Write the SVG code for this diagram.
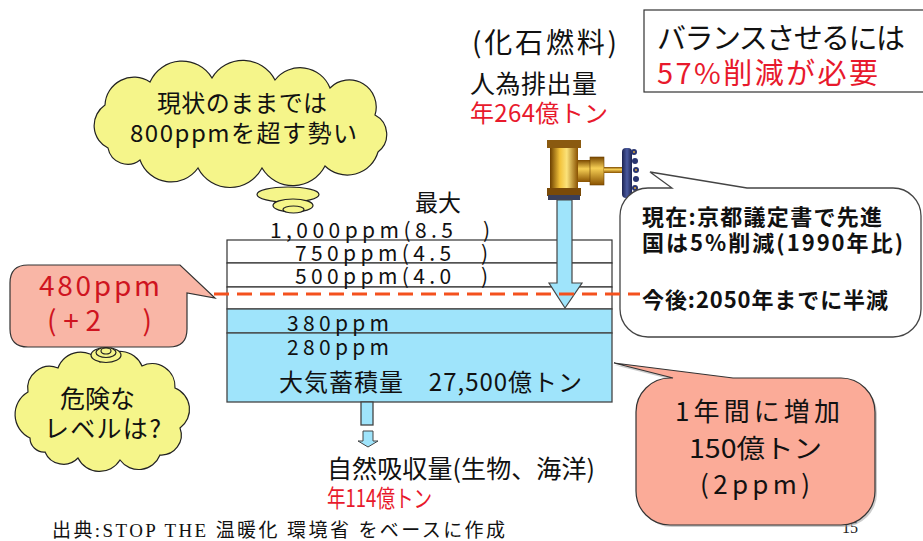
<svg xmlns="http://www.w3.org/2000/svg" width="923" height="541" viewBox="0 0 923 541">
  <defs>
    <linearGradient id="brass" x1="0" y1="0" x2="1" y2="0">
      <stop offset="0" stop-color="#6b3f00"/>
      <stop offset="0.35" stop-color="#f2c23a"/>
      <stop offset="0.6" stop-color="#fbe27a"/>
      <stop offset="1" stop-color="#8a5200"/>
    </linearGradient>
    <linearGradient id="brassV" x1="0" y1="0" x2="0" y2="1">
      <stop offset="0" stop-color="#7a4800"/>
      <stop offset="0.4" stop-color="#f6cf55"/>
      <stop offset="1" stop-color="#8a5200"/>
    </linearGradient>
    <linearGradient id="wheel" x1="0" y1="0" x2="1" y2="0">
      <stop offset="0" stop-color="#1c2350"/>
      <stop offset="0.5" stop-color="#4a5aa0"/>
      <stop offset="1" stop-color="#1c2350"/>
    </linearGradient>
  </defs>
  <style>
    .jp { font-family: "Noto Sans CJK JP", "Noto Sans", sans-serif; }
    .blk { fill: #111; }
    .red { fill: #e8192c; }
    .dred { fill: #cf1420; }
    .bold { font-weight: bold; }
    .cloud { fill: #f5f58a; stroke: #222; stroke-width: 1.2; }
    .salmon { fill: #fbab98; stroke: #333; stroke-width: 1.2; }
    .pink { fill: #f9b6a6; stroke: #333; stroke-width: 1.2; }
    .blue { fill: #9fe4fb; stroke: #444; stroke-width: 1.3; }
    .row { fill: #fff; stroke: #333; stroke-width: 1.2; }
  </style>

  <rect width="923" height="541" fill="#fff"/>

  <!-- page number, partly under the lower callout -->
  <text x="842" y="533" font-family="Liberation Serif, serif" font-size="16" fill="#222">15</text>

  <!-- thought cloud: current trend -->
  <g id="cloud-trend">
    <path class="cloud" d="M108,148 A25,25 0 0 1 105,105 A29,29 0 0 1 150,82 A35,35 0 0 1 212,78 A36,36 0 0 1 275,80 A32,32 0 0 1 330,88 A27,27 0 0 1 375,115 A22,22 0 0 1 378,152 A32,32 0 0 1 325,166 A36,36 0 0 1 262,168 A36,36 0 0 1 198,168 A33,33 0 0 1 140,160 A20,20 0 0 1 108,148 Z"/>
    <ellipse class="cloud" cx="288" cy="194.5" rx="31" ry="7.5"/>
    <ellipse class="cloud" cx="293" cy="205.5" rx="20" ry="6.5"/>
    <ellipse class="cloud" cx="293.5" cy="209.5" rx="10.5" ry="3.5"/>
    <text class="jp blk" x="157" y="112" font-size="24" textLength="170" lengthAdjust="spacing">現状のままでは</text>
    <text class="jp blk" x="130" y="142" font-size="24" textLength="227" lengthAdjust="spacing">800ppmを超す勢い</text>
  </g>

  <!-- atmosphere stack -->
  <g id="stack">
    <rect class="row" x="227" y="240" width="385" height="23"/>
    <rect class="row" x="227" y="263" width="385" height="24"/>
    <rect class="row" x="227" y="287" width="385" height="22"/>
    <rect class="blue" x="227" y="309" width="385" height="24"/>
    <rect class="blue" x="227" y="333" width="385" height="69"/>
    <text class="jp blk" x="415" y="211" font-size="23">最大</text>
    <text class="jp blk" x="270" y="238" font-size="21" textLength="220" lengthAdjust="spacing">1,000ppm(8.5　)</text>
    <text class="jp blk" x="295" y="261" font-size="21" textLength="193" lengthAdjust="spacing">750ppm(4.5　)</text>
    <text class="jp blk" x="295" y="284" font-size="21" textLength="193" lengthAdjust="spacing">500ppm(4.0　)</text>
    <text class="jp blk" x="287" y="331" font-size="21" textLength="102" lengthAdjust="spacing">380ppm</text>
    <text class="jp blk" x="287" y="355" font-size="21" textLength="102" lengthAdjust="spacing">280ppm</text>
    <text class="jp blk" x="279" y="391" font-size="24" textLength="303" lengthAdjust="spacing">大気蓄積量　27,500億トン</text>
  </g>

  <!-- fossil fuel emission source -->
  <g id="emission">
    <text class="jp blk" x="472" y="53" font-size="28" textLength="145" lengthAdjust="spacing">(化石燃料)</text>
    <text class="jp blk" x="470" y="93" font-size="25" textLength="127" lengthAdjust="spacing">人為排出量</text>
    <text class="jp red" x="470" y="122" font-size="24" textLength="138" lengthAdjust="spacing">年264億トン</text>
    <!-- valve -->
    <rect x="550" y="143" width="28" height="50" fill="url(#brass)"/>
    <rect x="547" y="140" width="34" height="8" fill="#8a5a10"/>
    <rect x="547" y="188" width="34" height="8" fill="#7a4a08"/>
    <rect x="548" y="195" width="32" height="5" fill="#3a3f5a"/>
    <rect x="578" y="160" width="14" height="22" fill="url(#brassV)"/>
    <rect x="590" y="157" width="14" height="28" fill="url(#brassV)" stroke="#6b4000" stroke-width="0.6"/>
    <rect x="604" y="167" width="18" height="6" fill="url(#brassV)"/>
    <rect x="622" y="148" width="10" height="50" rx="4" fill="url(#wheel)"/>
    <g fill="#2a3570">
      <circle cx="634" cy="152" r="3"/>
      <circle cx="635" cy="161" r="3"/>
      <circle cx="636" cy="170" r="3"/>
      <circle cx="636" cy="179" r="3"/>
      <circle cx="635" cy="188" r="3"/>
      <circle cx="634" cy="196" r="3"/>
    </g>
    <g fill="#d9a53a">
      <circle cx="634" cy="152" r="1"/>
      <circle cx="636" cy="170" r="1"/>
      <circle cx="635" cy="188" r="1"/>
    </g>
  </g>

  <!-- target box -->
  <g id="target">
    <rect x="644" y="10" width="290" height="82" fill="#fff" stroke="#333" stroke-width="1.2"/>
    <text class="jp blk" x="657" y="49" font-size="29" textLength="248" lengthAdjust="spacing">バランスさせるには</text>
    <text class="jp red" x="657" y="84" font-size="29" textLength="221" lengthAdjust="spacing">57%削減が必要</text>
  </g>

  <!-- policy speech bubble -->
  <g id="policy">
    <path d="M648,188 L672,188 L650,172 L747,188 L893,188 A28,28 0 0 1 921,216 L921,309 A28,28 0 0 1 893,337 L648,337 A28,28 0 0 1 620,309 L620,216 A28,28 0 0 1 648,188 Z" fill="#fff" stroke="#444" stroke-width="1.3"/>
    <text class="jp blk bold" x="642" y="225" font-size="22" textLength="240" lengthAdjust="spacing">現在:京都議定書で先進</text>
    <text class="jp blk bold" x="642" y="251" font-size="22" textLength="261" lengthAdjust="spacing">国は5%削減(1990年比)</text>
    <text class="jp blk bold" x="642" y="308" font-size="22" textLength="246" lengthAdjust="spacing">今後:2050年までに半減</text>
  </g>

  <!-- 480ppm callout -->
  <g id="threshold">
    <path class="pink" d="M28,265 L180,265 L215,298 L187,293 L187,329 Q187,347 169,347 L28,347 Q10,347 10,329 L10,283 Q10,265 28,265 Z"/>
    <text class="jp dred" x="39" y="296" font-size="28" textLength="121" lengthAdjust="spacing">480ppm</text>
    <text class="jp dred" x="47" y="331" font-size="28" textLength="105" lengthAdjust="spacing">(+2　)</text>
  </g>

  <!-- thought cloud: danger level -->
  <g id="cloud-danger">
    <path class="cloud" d="M30,438 A26,26 0 0 1 28,392 A22,22 0 0 1 58,368 A24,24 0 0 1 100,362 A24,24 0 0 1 142,366 A23,23 0 0 1 175,388 A23,23 0 0 1 180,428 A20,20 0 0 1 160,455 A23,23 0 0 1 120,460 A24,24 0 0 1 78,458 A20,20 0 0 1 45,452 A14,14 0 0 1 30,438 Z"/>
    <ellipse class="cloud" cx="106" cy="355" rx="15" ry="7.5"/>
    <ellipse class="cloud" cx="106" cy="352.5" rx="10" ry="5"/>
    <ellipse class="cloud" cx="106" cy="351" rx="5" ry="3"/>
    <text class="jp blk" x="60" y="408" font-size="25">危険な</text>
    <text class="jp blk" x="44" y="438" font-size="25" textLength="117" lengthAdjust="spacing">レベルは?</text>
  </g>

  <!-- connectors -->
  <g id="connectors">
    <!-- emission inflow -->
    <path d="M557,200 L572,200 L572,283 L582,283 L565,308 L549,283 L557,283 Z" fill="#9fe4fb" stroke="#444" stroke-width="1.2"/>
    <!-- natural absorption outflow -->
    <rect class="blue" x="361" y="402" width="12" height="23"/>
    <path d="M363,431 L373,431 L373,441 L378,441 L368,447 L358,441 L363,441 Z" fill="#9fe4fb" stroke="#444" stroke-width="1"/>
    <!-- 480ppm level -->
    <line x1="214" y1="294" x2="640" y2="294" stroke="#f4511e" stroke-width="3" stroke-dasharray="15 8"/>
  </g>

  <!-- natural absorption -->
  <g id="absorption">
    <text class="jp blk" x="327" y="478" font-size="25" textLength="268" lengthAdjust="spacing">自然吸収量(生物、海洋)</text>
    <text class="jp red" x="327" y="507" font-size="24" textLength="105" lengthAdjust="spacingAndGlyphs">年114億トン</text>
  </g>

  <!-- yearly increase callout -->
  <g id="increase">
    <path d="M673,380 L614,365 L735,380 L843,380 A34,34 0 0 1 877,414 L877,493 A34,34 0 0 1 843,527 L672,527 A34,34 0 0 1 638,493 L638,414 A34,34 0 0 1 672,380 Z" fill="#999" opacity="0.5"/>
    <path class="salmon" d="M673,378 L614,363 L733,378 L841,378 A34,34 0 0 1 875,412 L875,491 A34,34 0 0 1 841,525 L670,525 A34,34 0 0 1 636,491 L636,412 A34,34 0 0 1 670,378 Z"/>
    <text class="jp blk" x="675" y="421" font-size="26" textLength="165" lengthAdjust="spacing">1年間に増加</text>
    <text class="jp blk" x="689" y="458" font-size="26" textLength="133" lengthAdjust="spacingAndGlyphs">150億トン</text>
    <text class="jp blk" x="700" y="494" font-size="26" textLength="110" lengthAdjust="spacing">(2ppm)</text>
  </g>

  <!-- source note -->
  <text x="52" y="537" font-family="Liberation Serif, 'Noto Sans CJK JP', serif" font-size="19" fill="#111" textLength="453" lengthAdjust="spacing">出典:STOP THE 温暖化 環境省 をベースに作成</text>
</svg>
